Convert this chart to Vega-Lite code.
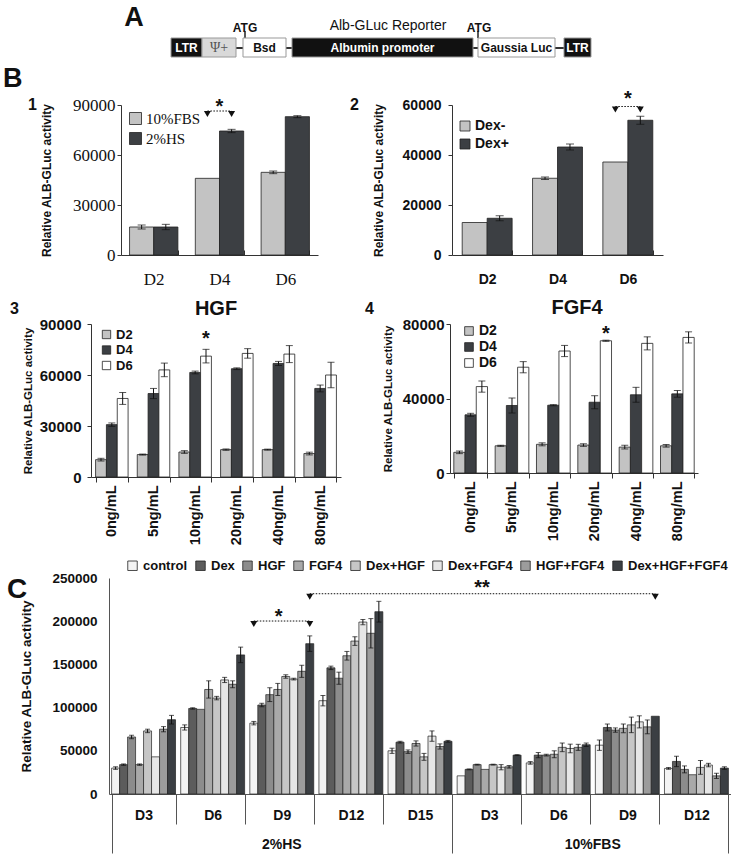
{
"$schema": "https://vega.github.io/schema/vega-lite/v6.json",
"padding": 0,
"background": "white",
"config": {
  "view": {"stroke": null},
  "font": "Liberation Sans",
  "axis": {"grid": false, "domainColor": "#333", "tickColor": "#333", "labelColor": "#111", "titleColor": "#111", "labelFont": "Liberation Sans", "titleFont": "Liberation Sans"},
  "legend": {"labelColor": "#111", "padding": 0, "labelFont": "Liberation Sans"},
  "title": {"font": "Liberation Sans", "fontWeight": "bold", "color": "#111"}
},
"bounds": "full",
"spacing": 0,
"resolve": {"scale": {"color": "independent", "xOffset": "independent", "fill": "independent", "x": "independent", "y": "independent"}, "legend": {"color": "independent", "fill": "independent"}},
"vconcat": [
 {"hconcat": [
  {"width": 100, "height": 58, "data": {"values": [{}]}, "mark": {"type": "point", "opacity": 0}, "encoding": {}},
  {"width": 520, "height": 58,
   "layer": [
    {"data": {"values": [{"s": 99, "e": 461}]}, "mark": {"type": "rule", "color": "#333", "strokeWidth": 2},
     "encoding": {"x": {"field": "s", "type": "quantitative", "scale": {"domain": [0, 520], "nice": false, "zero": false}, "axis": null}, "x2": {"field": "e"}, "y": {"datum": 48, "type": "quantitative", "scale": {"domain": [0, 58], "reverse": true, "nice": false, "zero": false}, "axis": null}}},
    {"data": {"values": [{"p": 142}, {"p": 375}]}, "mark": {"type": "rule", "color": "#222", "strokeWidth": 1.5},
     "encoding": {"x": {"field": "p", "type": "quantitative"}, "y": {"datum": 31, "type": "quantitative"}, "y2": {"datum": 38}}},
    {"data": {"values": [
      {"name": "LTR", "kind": "ltr", "s": 68, "e": 99},
      {"name": "Ψ+", "kind": "psi", "s": 99, "e": 133},
      {"name": "Bsd", "kind": "gene", "s": 140, "e": 183},
      {"name": "Albumin promoter", "kind": "ltr", "s": 189, "e": 370},
      {"name": "Gaussia Luc", "kind": "gene", "s": 375, "e": 452},
      {"name": "LTR", "kind": "ltr", "s": 461, "e": 488}]},
     "mark": {"type": "rect", "stroke": "#999", "strokeWidth": 1},
     "encoding": {"x": {"field": "s", "type": "quantitative"}, "x2": {"field": "e"}, "y": {"datum": 38, "type": "quantitative"}, "y2": {"datum": 57},
       "fill": {"field": "kind", "type": "nominal", "scale": {"domain": ["ltr", "psi", "gene"], "range": ["#111111", "#d9d9d9", "#ffffff"]}, "legend": null}}},
    {"data": {"values": [
      {"name": "LTR", "kind": "ltr", "s": 68, "e": 99},
      {"name": "Bsd", "kind": "gene", "s": 140, "e": 183},
      {"name": "Albumin promoter", "kind": "ltr", "s": 189, "e": 370},
      {"name": "Gaussia Luc", "kind": "gene", "s": 375, "e": 452},
      {"name": "LTR", "kind": "ltr", "s": 461, "e": 488}]},
     "transform": [{"calculate": "(datum.s + datum.e) / 2", "as": "mid"}],
     "mark": {"type": "text", "fontWeight": "bold", "fontSize": 12, "baseline": "middle"},
     "encoding": {"x": {"field": "mid", "type": "quantitative"}, "y": {"datum": 48, "type": "quantitative"}, "text": {"field": "name"},
       "color": {"field": "kind", "type": "nominal", "scale": {"domain": ["ltr", "gene"], "range": ["#ffffff", "#111111"]}, "legend": null}}},
    {"data": {"values": [{"name": "Ψ+", "s": 99, "e": 133}]},
     "transform": [{"calculate": "(datum.s + datum.e) / 2", "as": "mid"}],
     "mark": {"type": "text", "font": "Liberation Serif", "fontSize": 14, "baseline": "middle", "color": "#555"},
     "encoding": {"x": {"field": "mid", "type": "quantitative"}, "y": {"datum": 48, "type": "quantitative"}, "text": {"field": "name"}}},
    {"data": {"values": [{"t": "A", "p": 31}]},
     "mark": {"type": "text", "fontWeight": "bold", "fontSize": 27, "baseline": "middle", "color": "#111"},
     "encoding": {"x": {"field": "p", "type": "quantitative"}, "y": {"datum": 18, "type": "quantitative"}, "text": {"field": "t"}}},
    {"data": {"values": [{"t": "ATG", "p": 142}, {"t": "ATG", "p": 376}]},
     "mark": {"type": "text", "fontWeight": "bold", "fontSize": 12, "baseline": "middle", "color": "#111"},
     "encoding": {"x": {"field": "p", "type": "quantitative"}, "y": {"datum": 28, "type": "quantitative"}, "text": {"field": "t"}}},
    {"data": {"values": [{"t": "Alb-GLuc Reporter", "p": 285}]},
     "mark": {"type": "text", "fontSize": 14, "baseline": "middle", "color": "#111"},
     "encoding": {"x": {"field": "p", "type": "quantitative"}, "y": {"datum": 26, "type": "quantitative"}, "text": {"field": "t"}}}
   ]}
 ], "spacing": 0, "bounds": "flush", "resolve": {"scale": {"color": "independent", "xOffset": "independent", "fill": "independent"}, "legend": {"color": "independent", "fill": "independent"}}},

 {"width": 1, "height": 6.5, "data": {"values": [{}]}, "mark": {"type": "point", "opacity": 0}, "encoding": {}},

 {"hconcat": [
  {"width": 25, "height": 150, "data": {"values": [{}]}, "mark": {"type": "point", "opacity": 0}, "encoding": {},
   "title": {"text": "B", "fontSize": 27, "anchor": "start", "frame": "group", "baseline": "middle", "offset": 0, "dy": 1, "dx": 0}},
  {"width": 93, "height": 150, "data": {"values": [{}]}, "mark": {"type": "point", "opacity": 0}, "encoding": {},
   "title": {"text": "1", "fontSize": 16, "anchor": "start", "frame": "group", "baseline": "middle", "offset": 0, "dy": 16, "dx": 0}},
  {"width": 197, "height": 150,
   "data": {"values": [
     {"day": "D2", "series": "10%FBS", "value": 16800, "lo": 15600, "hi": 18000},
     {"day": "D2", "series": "2%HS", "value": 16800, "lo": 15200, "hi": 18400},
     {"day": "D4", "series": "10%FBS", "value": 46000},
     {"day": "D4", "series": "2%HS", "value": 74400, "lo": 73400, "hi": 75400},
     {"day": "D6", "series": "10%FBS", "value": 49600, "lo": 48800, "hi": 50400},
     {"day": "D6", "series": "2%HS", "value": 83000, "lo": 82400, "hi": 83600}]},
   "layer": [
    {"mark": {"type": "bar", "stroke": "#222", "strokeWidth": 0.8},
     "encoding": {
       "x": {"field": "day", "type": "nominal", "scale": {"domain": ["D2", "D4", "D6"], "paddingInner": 0.265, "paddingOuter": 0.13},
             "axis": {"title": null, "labelAngle": 0, "labelFont": "Liberation Serif", "labelFontSize": 17, "tickBand": "extent", "tickSize": -5, "labelPadding": 21.5}},
       "xOffset": {"field": "series", "type": "nominal", "scale": {"domain": ["10%FBS", "2%HS"]}},
       "y": {"field": "value", "type": "quantitative", "scale": {"domain": [0, 90000], "nice": false},
             "axis": {"values": [0, 30000, 60000, 90000], "format": "d", "labelFont": "Liberation Serif", "labelFontSize": 17, "tickSize": 4, "labelPadding": 2,
                      "title": "Relative ALB-GLuc activity", "titleFontSize": 12, "titleFontWeight": "bold", "titlePadding": 19}},
       "color": {"field": "series", "type": "nominal", "scale": {"domain": ["10%FBS", "2%HS"], "range": ["#c3c3c3", "#3c3f43"]},
                 "legend": {"title": null, "orient": "none", "legendX": 7, "legendY": 6, "labelFont": "Liberation Serif", "labelFontSize": 15, "symbolType": "square", "symbolSize": 144, "symbolStrokeColor": "#222", "symbolStrokeWidth": 0.8, "rowPadding": 3, "labelOffset": 3}}}},
    {"mark": {"type": "rule", "color": "#111"},
     "encoding": {"x": {"field": "day", "type": "nominal"}, "xOffset": {"field": "series", "type": "nominal"}, "y": {"field": "hi", "type": "quantitative"}, "y2": {"field": "lo"}}},
    {"mark": {"type": "tick", "orient": "horizontal", "size": 8, "thickness": 1, "color": "#111"},
     "encoding": {"x": {"field": "day", "type": "nominal"}, "xOffset": {"field": "series", "type": "nominal"}, "y": {"field": "hi", "type": "quantitative"}}},
    {"mark": {"type": "tick", "orient": "horizontal", "size": 8, "thickness": 1, "color": "#111"},
     "encoding": {"x": {"field": "day", "type": "nominal"}, "xOffset": {"field": "series", "type": "nominal"}, "y": {"field": "lo", "type": "quantitative"}}},
    {"data": {"values": [{"day": "D4", "series": "10%FBS", "v": 86400}, {"day": "D4", "series": "2%HS", "v": 86400}]},
     "mark": {"type": "line", "color": "#111", "strokeDash": [1.5, 1.5], "strokeWidth": 1},
     "encoding": {"x": {"field": "day", "type": "nominal"}, "xOffset": {"field": "series", "type": "nominal"}, "y": {"field": "v", "type": "quantitative"}}},
    {"data": {"values": [{"day": "D4", "series": "10%FBS", "v": 86400}, {"day": "D4", "series": "2%HS", "v": 86400}]},
     "mark": {"type": "point", "shape": "M-0.7,0L0.7,0L0,1.2Z", "filled": true, "color": "#111", "size": 100, "opacity": 1},
     "encoding": {"x": {"field": "day", "type": "nominal"}, "xOffset": {"field": "series", "type": "nominal"}, "y": {"field": "v", "type": "quantitative"}}},
    {"data": {"values": [{"day": "D4", "v": 85400, "t": "*"}]},
     "mark": {"type": "text", "fontSize": 20, "fontWeight": "bold", "baseline": "alphabetic", "color": "#111"},
     "encoding": {"x": {"field": "day", "type": "nominal"}, "y": {"field": "v", "type": "quantitative"}, "text": {"field": "t"}}}
   ]},
  {"width": 134, "height": 150, "data": {"values": [{}]}, "mark": {"type": "point", "opacity": 0}, "encoding": {},
   "title": {"text": "2", "fontSize": 16, "anchor": "start", "frame": "group", "baseline": "middle", "offset": 0, "dy": 16, "dx": 32}},
  {"width": 211, "height": 150,
   "data": {"values": [
     {"day": "D2", "series": "Dex-", "value": 13000},
     {"day": "D2", "series": "Dex+", "value": 14700, "lo": 13700, "hi": 15700},
     {"day": "D4", "series": "Dex-", "value": 30700, "lo": 30200, "hi": 31200},
     {"day": "D4", "series": "Dex+", "value": 43200, "lo": 42000, "hi": 44400},
     {"day": "D6", "series": "Dex-", "value": 37200},
     {"day": "D6", "series": "Dex+", "value": 53900, "lo": 52300, "hi": 55500}]},
   "layer": [
    {"mark": {"type": "bar", "stroke": "#222", "strokeWidth": 0.8},
     "encoding": {
       "x": {"field": "day", "type": "nominal", "scale": {"domain": ["D2", "D4", "D6"], "paddingInner": 0.29, "paddingOuter": 0.145},
             "axis": {"title": null, "labelAngle": 0, "labelFontSize": 14, "labelFontWeight": "bold", "tickBand": "extent", "tickSize": -5, "labelPadding": 22.5}},
       "xOffset": {"field": "series", "type": "nominal", "scale": {"domain": ["Dex-", "Dex+"]}},
       "y": {"field": "value", "type": "quantitative", "scale": {"domain": [0, 60000], "nice": false},
             "axis": {"values": [0, 20000, 40000, 60000], "format": "d", "labelFontSize": 14, "labelFontWeight": "bold", "tickSize": 4, "labelPadding": 7,
                      "title": "Relative ALB-GLuc activity", "titleFontSize": 12, "titleFontWeight": "bold", "titlePadding": 17}},
       "color": {"field": "series", "type": "nominal", "scale": {"domain": ["Dex-", "Dex+"], "range": ["#c3c3c3", "#3c3f43"]},
                 "legend": {"title": null, "orient": "none", "legendX": 6, "legendY": 14, "labelFontSize": 14, "labelFontWeight": "bold", "symbolType": "square", "symbolSize": 100, "symbolStrokeColor": "#222", "symbolStrokeWidth": 0.8, "rowPadding": 4, "labelOffset": 3}}}},
    {"mark": {"type": "rule", "color": "#111"},
     "encoding": {"x": {"field": "day", "type": "nominal"}, "xOffset": {"field": "series", "type": "nominal"}, "y": {"field": "hi", "type": "quantitative"}, "y2": {"field": "lo"}}},
    {"mark": {"type": "tick", "orient": "horizontal", "size": 8, "thickness": 1, "color": "#111"},
     "encoding": {"x": {"field": "day", "type": "nominal"}, "xOffset": {"field": "series", "type": "nominal"}, "y": {"field": "hi", "type": "quantitative"}}},
    {"mark": {"type": "tick", "orient": "horizontal", "size": 8, "thickness": 1, "color": "#111"},
     "encoding": {"x": {"field": "day", "type": "nominal"}, "xOffset": {"field": "series", "type": "nominal"}, "y": {"field": "lo", "type": "quantitative"}}},
    {"data": {"values": [{"day": "D6", "series": "Dex-", "v": 59400}, {"day": "D6", "series": "Dex+", "v": 59400}]},
     "mark": {"type": "line", "color": "#111", "strokeDash": [1.5, 1.5], "strokeWidth": 1},
     "encoding": {"x": {"field": "day", "type": "nominal"}, "xOffset": {"field": "series", "type": "nominal"}, "y": {"field": "v", "type": "quantitative"}}},
    {"data": {"values": [{"day": "D6", "series": "Dex-", "v": 59400}, {"day": "D6", "series": "Dex+", "v": 59400}]},
     "mark": {"type": "point", "shape": "M-0.7,0L0.7,0L0,1.2Z", "filled": true, "color": "#111", "size": 100, "opacity": 1},
     "encoding": {"x": {"field": "day", "type": "nominal"}, "xOffset": {"field": "series", "type": "nominal"}, "y": {"field": "v", "type": "quantitative"}}},
    {"data": {"values": [{"day": "D6", "v": 60000, "t": "*"}]},
     "mark": {"type": "text", "fontSize": 20, "fontWeight": "bold", "baseline": "alphabetic", "color": "#111"},
     "encoding": {"x": {"field": "day", "type": "nominal"}, "y": {"field": "v", "type": "quantitative"}, "text": {"field": "t"}}}
   ]}
 ], "spacing": 0, "bounds": "flush", "resolve": {"scale": {"color": "independent", "xOffset": "independent"}, "legend": {"color": "independent"}}},

 {"width": 1, "height": 9.5, "data": {"values": [{}]}, "mark": {"type": "point", "opacity": 0}, "encoding": {}},

 {"hconcat": [
  {"width": 88, "height": 153, "data": {"values": [{}]}, "mark": {"type": "point", "opacity": 0}, "encoding": {},
   "title": {"text": "3", "fontSize": 16, "anchor": "start", "frame": "group", "baseline": "middle", "offset": 0, "dy": 1, "dx": 7}},
  {"width": 250, "height": 153,
   "title": {"text": "HGF", "fontSize": 20, "anchor": "middle", "frame": "group", "baseline": "middle", "offset": 0, "dy": 12},
   "data": {"values": [
     {"dose": "0ng/mL", "day": "D2", "value": 10200, "lo": 9400, "hi": 11000},
     {"dose": "0ng/mL", "day": "D4", "value": 30800, "lo": 29800, "hi": 31800},
     {"dose": "0ng/mL", "day": "D6", "value": 46200, "lo": 42700, "hi": 49700},
     {"dose": "5ng/mL", "day": "D2", "value": 13200, "lo": 12900, "hi": 13500},
     {"dose": "5ng/mL", "day": "D4", "value": 49100, "lo": 46100, "hi": 52100},
     {"dose": "5ng/mL", "day": "D6", "value": 63000, "lo": 59000, "hi": 67000},
     {"dose": "10ng/mL", "day": "D2", "value": 14700, "lo": 13900, "hi": 15500},
     {"dose": "10ng/mL", "day": "D4", "value": 61500, "lo": 60700, "hi": 62300},
     {"dose": "10ng/mL", "day": "D6", "value": 71100, "lo": 67100, "hi": 75100},
     {"dose": "20ng/mL", "day": "D2", "value": 16100, "lo": 15700, "hi": 16500},
     {"dose": "20ng/mL", "day": "D4", "value": 63700, "lo": 63200, "hi": 64200},
     {"dose": "20ng/mL", "day": "D6", "value": 72700, "lo": 69900, "hi": 75500},
     {"dose": "40ng/mL", "day": "D2", "value": 16100, "lo": 15800, "hi": 16400},
     {"dose": "40ng/mL", "day": "D4", "value": 66800, "lo": 65600, "hi": 68000},
     {"dose": "40ng/mL", "day": "D6", "value": 72300, "lo": 67300, "hi": 77300},
     {"dose": "80ng/mL", "day": "D2", "value": 13800, "lo": 13000, "hi": 14600},
     {"dose": "80ng/mL", "day": "D4", "value": 52100, "lo": 50100, "hi": 54100},
     {"dose": "80ng/mL", "day": "D6", "value": 60000, "lo": 52500, "hi": 67500}]},
   "layer": [
    {"mark": {"type": "bar", "stroke": "#222", "strokeWidth": 0.8},
     "encoding": {
       "x": {"field": "dose", "type": "nominal", "scale": {"domain": ["0ng/mL", "5ng/mL", "10ng/mL", "20ng/mL", "40ng/mL", "80ng/mL"], "paddingInner": 0.22, "paddingOuter": 0.11},
             "axis": {"title": null, "labelAngle": -90, "labelFontSize": 14.5, "labelFontWeight": "bold", "tickBand": "extent", "tickSize": 5, "labelPadding": 3}},
       "xOffset": {"field": "day", "type": "nominal", "scale": {"domain": ["D2", "D4", "D6"]}},
       "y": {"field": "value", "type": "quantitative", "scale": {"domain": [0, 90000], "nice": false},
             "axis": {"values": [0, 30000, 60000, 90000], "format": "d", "labelFontSize": 15, "labelFontWeight": "bold", "tickSize": 4, "labelPadding": 6,
                      "title": "Relative ALB-GLuc activity", "titleFontSize": 11.5, "titleFontWeight": "bold", "titlePadding": 6}},
       "color": {"field": "day", "type": "nominal", "scale": {"domain": ["D2", "D4", "D6"], "range": ["#c3c3c3", "#3c3f43", "#ffffff"]},
                 "legend": {"title": null, "orient": "none", "legendX": 9, "legendY": 4, "labelFontSize": 13, "labelFontWeight": "bold", "symbolType": "square", "symbolSize": 70, "symbolStrokeColor": "#222", "symbolStrokeWidth": 0.8, "rowPadding": 1.5, "labelOffset": 3}}}},
    {"mark": {"type": "rule", "color": "#111"},
     "encoding": {"x": {"field": "dose", "type": "nominal"}, "xOffset": {"field": "day", "type": "nominal"}, "y": {"field": "hi", "type": "quantitative"}, "y2": {"field": "lo"}}},
    {"mark": {"type": "tick", "orient": "horizontal", "size": 7, "thickness": 1, "color": "#111"},
     "encoding": {"x": {"field": "dose", "type": "nominal"}, "xOffset": {"field": "day", "type": "nominal"}, "y": {"field": "hi", "type": "quantitative"}}},
    {"mark": {"type": "tick", "orient": "horizontal", "size": 7, "thickness": 1, "color": "#111"},
     "encoding": {"x": {"field": "dose", "type": "nominal"}, "xOffset": {"field": "day", "type": "nominal"}, "y": {"field": "lo", "type": "quantitative"}}},
    {"data": {"values": [{"dose": "10ng/mL", "day": "D6", "v": 77600, "t": "*"}]},
     "mark": {"type": "text", "fontSize": 20, "fontWeight": "bold", "baseline": "alphabetic", "color": "#111"},
     "encoding": {"x": {"field": "dose", "type": "nominal"}, "xOffset": {"field": "day", "type": "nominal"}, "y": {"field": "v", "type": "quantitative"}, "text": {"field": "t"}}}
   ]},
  {"width": 109, "height": 153, "data": {"values": [{}]}, "mark": {"type": "point", "opacity": 0}, "encoding": {},
   "title": {"text": "4", "fontSize": 16, "anchor": "start", "frame": "group", "baseline": "middle", "offset": 0, "dy": 1, "dx": 24}},
  {"width": 248, "height": 149,
   "title": {"text": "FGF4", "fontSize": 20, "anchor": "middle", "frame": "group", "baseline": "middle", "offset": 0, "dy": 11, "dx": 3},
   "data": {"values": [
     {"dose": "0ng/mL", "day": "D2", "value": 11100, "lo": 10400, "hi": 11800},
     {"dose": "0ng/mL", "day": "D4", "value": 31250, "lo": 30450, "hi": 32050},
     {"dose": "0ng/mL", "day": "D6", "value": 46400, "lo": 43400, "hi": 49400},
     {"dose": "5ng/mL", "day": "D2", "value": 14600, "lo": 14300, "hi": 14900},
     {"dose": "5ng/mL", "day": "D4", "value": 36250, "lo": 32250, "hi": 40250},
     {"dose": "5ng/mL", "day": "D6", "value": 56800, "lo": 53800, "hi": 59800},
     {"dose": "10ng/mL", "day": "D2", "value": 15400, "lo": 14600, "hi": 16200},
     {"dose": "10ng/mL", "day": "D4", "value": 36400, "lo": 36100, "hi": 36700},
     {"dose": "10ng/mL", "day": "D6", "value": 65500, "lo": 62500, "hi": 68500},
     {"dose": "20ng/mL", "day": "D2", "value": 15000, "lo": 14300, "hi": 15700},
     {"dose": "20ng/mL", "day": "D4", "value": 38000, "lo": 34500, "hi": 41500},
     {"dose": "20ng/mL", "day": "D6", "value": 71000, "lo": 70700, "hi": 71300},
     {"dose": "40ng/mL", "day": "D2", "value": 13900, "lo": 12900, "hi": 14900},
     {"dose": "40ng/mL", "day": "D4", "value": 42000, "lo": 38000, "hi": 46000},
     {"dose": "40ng/mL", "day": "D6", "value": 69600, "lo": 66100, "hi": 73100},
     {"dose": "80ng/mL", "day": "D2", "value": 14600, "lo": 13900, "hi": 15300},
     {"dose": "80ng/mL", "day": "D4", "value": 42500, "lo": 40700, "hi": 44300},
     {"dose": "80ng/mL", "day": "D6", "value": 72800, "lo": 69800, "hi": 75800}]},
   "layer": [
    {"mark": {"type": "bar", "stroke": "#222", "strokeWidth": 0.8},
     "encoding": {
       "x": {"field": "dose", "type": "nominal", "scale": {"domain": ["0ng/mL", "5ng/mL", "10ng/mL", "20ng/mL", "40ng/mL", "80ng/mL"], "paddingInner": 0.185, "paddingOuter": 0.092},
             "axis": {"title": null, "labelAngle": -90, "labelFontSize": 14.5, "labelFontWeight": "bold", "tickBand": "extent", "tickSize": 5, "labelPadding": 3}},
       "xOffset": {"field": "day", "type": "nominal", "scale": {"domain": ["D2", "D4", "D6"]}},
       "y": {"field": "value", "type": "quantitative", "scale": {"domain": [0, 80000], "nice": false},
             "axis": {"values": [0, 20000, 40000, 60000, 80000], "format": "d", "labelFontSize": 15, "labelFontWeight": "bold", "tickSize": 4, "labelPadding": 2,
                      "title": "Relative ALB-GLuc activity", "titleFontSize": 11.5, "titleFontWeight": "bold", "titlePadding": 9}},
       "color": {"field": "day", "type": "nominal", "scale": {"domain": ["D2", "D4", "D6"], "range": ["#c3c3c3", "#3c3f43", "#ffffff"]},
                 "legend": {"title": null, "orient": "none", "legendX": 12, "legendY": 0, "labelFontSize": 14, "labelFontWeight": "bold", "symbolType": "square", "symbolSize": 75, "symbolStrokeColor": "#222", "symbolStrokeWidth": 0.8, "rowPadding": 2, "labelOffset": 3}}}},
    {"mark": {"type": "rule", "color": "#111"},
     "encoding": {"x": {"field": "dose", "type": "nominal"}, "xOffset": {"field": "day", "type": "nominal"}, "y": {"field": "hi", "type": "quantitative"}, "y2": {"field": "lo"}}},
    {"mark": {"type": "tick", "orient": "horizontal", "size": 7, "thickness": 1, "color": "#111"},
     "encoding": {"x": {"field": "dose", "type": "nominal"}, "xOffset": {"field": "day", "type": "nominal"}, "y": {"field": "hi", "type": "quantitative"}}},
    {"mark": {"type": "tick", "orient": "horizontal", "size": 7, "thickness": 1, "color": "#111"},
     "encoding": {"x": {"field": "dose", "type": "nominal"}, "xOffset": {"field": "day", "type": "nominal"}, "y": {"field": "lo", "type": "quantitative"}}},
    {"data": {"values": [{"dose": "20ng/mL", "day": "D6", "v": 71400, "t": "*"}]},
     "mark": {"type": "text", "fontSize": 20, "fontWeight": "bold", "baseline": "alphabetic", "color": "#111"},
     "encoding": {"x": {"field": "dose", "type": "nominal"}, "xOffset": {"field": "day", "type": "nominal"}, "y": {"field": "v", "type": "quantitative"}, "text": {"field": "t"}}}
   ]}
 ], "spacing": 0, "bounds": "flush", "resolve": {"scale": {"color": "independent", "xOffset": "independent"}, "legend": {"color": "independent"}}},

 {"width": 1, "height": 14, "data": {"values": [{}]}, "mark": {"type": "point", "opacity": 0}, "encoding": {}},

 {"hconcat": [
  {"width": 106, "height": 216, "data": {"values": [{}]}, "mark": {"type": "point", "opacity": 0}, "encoding": {},
   "title": {"text": "C", "fontSize": 28, "anchor": "start", "frame": "group", "baseline": "middle", "offset": 0, "dy": 40, "dx": 4}},
  {"width": 622, "height": 216,
   "data": {"values": [
     {"grp": "2%HS D3", "series": "control", "value": 30000, "lo": 28500, "hi": 31500},
     {"grp": "2%HS D3", "series": "Dex", "value": 34000, "lo": 33200, "hi": 34800},
     {"grp": "2%HS D3", "series": "HGF", "value": 66000, "lo": 64000, "hi": 68000},
     {"grp": "2%HS D3", "series": "FGF4", "value": 34000, "lo": 33200, "hi": 34800},
     {"grp": "2%HS D3", "series": "Dex+HGF", "value": 73000, "lo": 71000, "hi": 75000},
     {"grp": "2%HS D3", "series": "Dex+FGF4", "value": 43000},
     {"grp": "2%HS D3", "series": "HGF+FGF4", "value": 75000, "lo": 72000, "hi": 78000},
     {"grp": "2%HS D3", "series": "Dex+HGF+FGF4", "value": 86000, "lo": 81000, "hi": 91000},
     {"grp": "2%HS D6", "series": "control", "value": 77000, "lo": 74000, "hi": 80000},
     {"grp": "2%HS D6", "series": "Dex", "value": 99000, "lo": 98200, "hi": 99800},
     {"grp": "2%HS D6", "series": "HGF", "value": 98000},
     {"grp": "2%HS D6", "series": "FGF4", "value": 121000, "lo": 111000, "hi": 131000},
     {"grp": "2%HS D6", "series": "Dex+HGF", "value": 111000, "lo": 109000, "hi": 113000},
     {"grp": "2%HS D6", "series": "Dex+FGF4", "value": 132000, "lo": 129000, "hi": 135000},
     {"grp": "2%HS D6", "series": "HGF+FGF4", "value": 127000, "lo": 123000, "hi": 131000},
     {"grp": "2%HS D6", "series": "Dex+HGF+FGF4", "value": 161000, "lo": 152000, "hi": 170000},
     {"grp": "2%HS D9", "series": "control", "value": 82000, "lo": 80000, "hi": 84000},
     {"grp": "2%HS D9", "series": "Dex", "value": 103000, "lo": 101000, "hi": 105000},
     {"grp": "2%HS D9", "series": "HGF", "value": 115000, "lo": 107000, "hi": 123000},
     {"grp": "2%HS D9", "series": "FGF4", "value": 121000, "lo": 114000, "hi": 128000},
     {"grp": "2%HS D9", "series": "Dex+HGF", "value": 136000, "lo": 134000, "hi": 138000},
     {"grp": "2%HS D9", "series": "Dex+FGF4", "value": 133000, "lo": 132000, "hi": 134000},
     {"grp": "2%HS D9", "series": "HGF+FGF4", "value": 142000, "lo": 135000, "hi": 149000},
     {"grp": "2%HS D9", "series": "Dex+HGF+FGF4", "value": 174000, "lo": 165000, "hi": 183000},
     {"grp": "2%HS D12", "series": "control", "value": 108000, "lo": 102000, "hi": 114000},
     {"grp": "2%HS D12", "series": "Dex", "value": 146000, "lo": 144000, "hi": 148000},
     {"grp": "2%HS D12", "series": "HGF", "value": 134000, "lo": 127000, "hi": 141000},
     {"grp": "2%HS D12", "series": "FGF4", "value": 160000, "lo": 155000, "hi": 165000},
     {"grp": "2%HS D12", "series": "Dex+HGF", "value": 177000, "lo": 172000, "hi": 182000},
     {"grp": "2%HS D12", "series": "Dex+FGF4", "value": 199000, "lo": 196000, "hi": 202000},
     {"grp": "2%HS D12", "series": "HGF+FGF4", "value": 186000, "lo": 169000, "hi": 203000},
     {"grp": "2%HS D12", "series": "Dex+HGF+FGF4", "value": 211000, "lo": 199000, "hi": 223000},
     {"grp": "2%HS D15", "series": "control", "value": 50000, "lo": 47000, "hi": 53000},
     {"grp": "2%HS D15", "series": "Dex", "value": 60000, "lo": 59000, "hi": 61000},
     {"grp": "2%HS D15", "series": "HGF", "value": 49000, "lo": 47000, "hi": 51000},
     {"grp": "2%HS D15", "series": "FGF4", "value": 58500, "lo": 55500, "hi": 61500},
     {"grp": "2%HS D15", "series": "Dex+HGF", "value": 43000, "lo": 39000, "hi": 47000},
     {"grp": "2%HS D15", "series": "Dex+FGF4", "value": 67000, "lo": 61000, "hi": 73000},
     {"grp": "2%HS D15", "series": "HGF+FGF4", "value": 55000, "lo": 52000, "hi": 58000},
     {"grp": "2%HS D15", "series": "Dex+HGF+FGF4", "value": 61000, "lo": 60000, "hi": 62000},
     {"grp": "10%FBS D3", "series": "control", "value": 21000},
     {"grp": "10%FBS D3", "series": "Dex", "value": 28500, "lo": 28000, "hi": 29000},
     {"grp": "10%FBS D3", "series": "HGF", "value": 34000, "lo": 33500, "hi": 34500},
     {"grp": "10%FBS D3", "series": "FGF4", "value": 28500},
     {"grp": "10%FBS D3", "series": "Dex+HGF", "value": 34000, "lo": 33500, "hi": 34500},
     {"grp": "10%FBS D3", "series": "Dex+FGF4", "value": 31000, "lo": 28000, "hi": 34000},
     {"grp": "10%FBS D3", "series": "HGF+FGF4", "value": 31500, "lo": 30000, "hi": 33000},
     {"grp": "10%FBS D3", "series": "Dex+HGF+FGF4", "value": 45000, "lo": 44500, "hi": 45500},
     {"grp": "10%FBS D6", "series": "control", "value": 36000, "lo": 34500, "hi": 37500},
     {"grp": "10%FBS D6", "series": "Dex", "value": 45000, "lo": 42000, "hi": 48000},
     {"grp": "10%FBS D6", "series": "HGF", "value": 45000, "lo": 44000, "hi": 46000},
     {"grp": "10%FBS D6", "series": "FGF4", "value": 46000, "lo": 42000, "hi": 50000},
     {"grp": "10%FBS D6", "series": "Dex+HGF", "value": 54000, "lo": 49000, "hi": 59000},
     {"grp": "10%FBS D6", "series": "Dex+FGF4", "value": 52700, "lo": 47700, "hi": 57700},
     {"grp": "10%FBS D6", "series": "HGF+FGF4", "value": 54000, "lo": 50500, "hi": 57500},
     {"grp": "10%FBS D6", "series": "Dex+HGF+FGF4", "value": 57000, "lo": 55000, "hi": 59000},
     {"grp": "10%FBS D9", "series": "control", "value": 56500, "lo": 50500, "hi": 62500},
     {"grp": "10%FBS D9", "series": "Dex", "value": 77000, "lo": 73000, "hi": 81000},
     {"grp": "10%FBS D9", "series": "HGF", "value": 74000, "lo": 71500, "hi": 76500},
     {"grp": "10%FBS D9", "series": "FGF4", "value": 76000, "lo": 71000, "hi": 81000},
     {"grp": "10%FBS D9", "series": "Dex+HGF", "value": 80000, "lo": 71000, "hi": 89000},
     {"grp": "10%FBS D9", "series": "Dex+FGF4", "value": 83500, "lo": 76500, "hi": 90500},
     {"grp": "10%FBS D9", "series": "HGF+FGF4", "value": 77700, "lo": 69700, "hi": 85700},
     {"grp": "10%FBS D9", "series": "Dex+HGF+FGF4", "value": 90000},
     {"grp": "10%FBS D12", "series": "control", "value": 29600, "lo": 28600, "hi": 30600},
     {"grp": "10%FBS D12", "series": "Dex", "value": 37700, "lo": 31700, "hi": 43700},
     {"grp": "10%FBS D12", "series": "HGF", "value": 28500, "lo": 24500, "hi": 32500},
     {"grp": "10%FBS D12", "series": "FGF4", "value": 22300},
     {"grp": "10%FBS D12", "series": "Dex+HGF", "value": 30800, "lo": 22800, "hi": 38800},
     {"grp": "10%FBS D12", "series": "Dex+FGF4", "value": 33500, "lo": 31500, "hi": 35500},
     {"grp": "10%FBS D12", "series": "HGF+FGF4", "value": 21000, "lo": 18000, "hi": 24000},
     {"grp": "10%FBS D12", "series": "Dex+HGF+FGF4", "value": 30000, "lo": 28500, "hi": 31500}]},
   "layer": [
    {"mark": {"type": "bar", "stroke": "#222", "strokeWidth": 0.7},
     "encoding": {
       "x": {"field": "grp", "type": "nominal",
             "scale": {"domain": ["2%HS D3", "2%HS D6", "2%HS D9", "2%HS D12", "2%HS D15", "10%FBS D3", "10%FBS D6", "10%FBS D9", "10%FBS D12"], "paddingInner": 0.075, "paddingOuter": 0.0375},
             "axis": {"title": null, "labelExpr": "split(datum.label, ' ')[1]", "labelAngle": 0, "labelFontSize": 14, "labelFontWeight": "bold", "tickBand": "extent",
                      "tickColor": "#555", "domainColor": "#555",
                      "tickSize": {"condition": {"test": "datum.index === -1 || datum.index === 1 || datum.value === '2%HS D15'", "value": 59}, "value": 30},
                      "labelPadding": {"condition": {"test": "datum.index === 1 || datum.value === '2%HS D15'", "value": -45}, "value": -16}}},
       "xOffset": {"field": "series", "type": "nominal", "scale": {"domain": ["control", "Dex", "HGF", "FGF4", "Dex+HGF", "Dex+FGF4", "HGF+FGF4", "Dex+HGF+FGF4"]}},
       "y": {"field": "value", "type": "quantitative", "scale": {"domain": [0, 250000], "nice": false},
             "axis": {"values": [0, 50000, 100000, 150000, 200000, 250000], "format": "d", "labelFontSize": 13.5, "labelFontWeight": "bold", "ticks": false, "labelPadding": 12, "domainColor": "#555",
                      "title": "Relative ALB-GLuc activity", "titleFontSize": 13.5, "titleFontWeight": "bold", "titlePadding": 18}},
       "color": {"field": "series", "type": "nominal",
                 "scale": {"domain": ["control", "Dex", "HGF", "FGF4", "Dex+HGF", "Dex+FGF4", "HGF+FGF4", "Dex+HGF+FGF4"], "range": ["#f3f3f3", "#5c5c5c", "#8c8c8c", "#a9a9a9", "#c6c6c6", "#e6e6e6", "#9c9c9c", "#3b3f43"]},
                 "legend": {"title": null, "orient": "none", "direction": "horizontal", "columns": 8, "legendX": 17, "legendY": -19, "labelFontSize": 13, "labelFontWeight": "bold", "symbolType": "square", "symbolSize": 90, "symbolStrokeColor": "#222", "symbolStrokeWidth": 0.8, "columnPadding": 6, "labelOffset": 4}}}},
    {"mark": {"type": "rule", "color": "#111"},
     "encoding": {"x": {"field": "grp", "type": "nominal"}, "xOffset": {"field": "series", "type": "nominal"}, "y": {"field": "hi", "type": "quantitative"}, "y2": {"field": "lo"}}},
    {"mark": {"type": "tick", "orient": "horizontal", "size": 5, "thickness": 1, "color": "#111"},
     "encoding": {"x": {"field": "grp", "type": "nominal"}, "xOffset": {"field": "series", "type": "nominal"}, "y": {"field": "hi", "type": "quantitative"}}},
    {"mark": {"type": "tick", "orient": "horizontal", "size": 5, "thickness": 1, "color": "#111"},
     "encoding": {"x": {"field": "grp", "type": "nominal"}, "xOffset": {"field": "series", "type": "nominal"}, "y": {"field": "lo", "type": "quantitative"}}},
    {"data": {"values": [
       {"ann": "a", "grp": "2%HS D9", "series": "control", "v": 200200},
       {"ann": "a", "grp": "2%HS D9", "series": "Dex+HGF+FGF4", "v": 200200},
       {"ann": "b", "grp": "2%HS D9", "series": "Dex+HGF+FGF4", "v": 231800},
       {"ann": "b", "grp": "10%FBS D9", "series": "Dex+HGF+FGF4", "v": 231800}]},
     "mark": {"type": "line", "color": "#111", "strokeDash": [1.5, 1.5], "strokeWidth": 1},
     "encoding": {"x": {"field": "grp", "type": "nominal"}, "xOffset": {"field": "series", "type": "nominal"}, "y": {"field": "v", "type": "quantitative"}, "detail": {"field": "ann"}}},
    {"data": {"values": [
       {"ann": "a", "grp": "2%HS D9", "series": "control", "v": 200200},
       {"ann": "a", "grp": "2%HS D9", "series": "Dex+HGF+FGF4", "v": 200200},
       {"ann": "b", "grp": "2%HS D9", "series": "Dex+HGF+FGF4", "v": 231800},
       {"ann": "b", "grp": "10%FBS D9", "series": "Dex+HGF+FGF4", "v": 231800}]},
     "mark": {"type": "point", "shape": "M-0.7,0L0.7,0L0,1.2Z", "filled": true, "color": "#111", "size": 100, "opacity": 1},
     "encoding": {"x": {"field": "grp", "type": "nominal"}, "xOffset": {"field": "series", "type": "nominal"}, "y": {"field": "v", "type": "quantitative"}}},
    {"data": {"values": [{"grp": "2%HS D9", "v": 197600, "t": "*"}]},
     "mark": {"type": "text", "fontSize": 20, "fontWeight": "bold", "baseline": "alphabetic", "color": "#111"},
     "encoding": {"x": {"field": "grp", "type": "nominal", "bandPosition": 0.45}, "y": {"field": "v", "type": "quantitative"}, "text": {"field": "t"}}},
    {"data": {"values": [{"grp": "10%FBS D3", "v": 231100, "t": "**"}]},
     "mark": {"type": "text", "fontSize": 20, "fontWeight": "bold", "baseline": "alphabetic", "color": "#111"},
     "encoding": {"x": {"field": "grp", "type": "nominal", "bandPosition": 0.39}, "y": {"field": "v", "type": "quantitative"}, "text": {"field": "t"}}},
    {"data": {"values": [{"grp": "2%HS D9", "t": "2%HS"}]},
     "mark": {"type": "text", "fontSize": 14, "fontWeight": "bold", "baseline": "middle", "dy": 51, "color": "#111"},
     "encoding": {"x": {"field": "grp", "type": "nominal"}, "y": {"datum": 0, "type": "quantitative"}, "text": {"field": "t"}}},
    {"data": {"values": [{"grp": "10%FBS D9", "t": "10%FBS"}]},
     "mark": {"type": "text", "fontSize": 14, "fontWeight": "bold", "baseline": "middle", "dy": 51, "color": "#111"},
     "encoding": {"x": {"field": "grp", "type": "nominal", "bandPosition": -0.04}, "y": {"datum": 0, "type": "quantitative"}, "text": {"field": "t"}}}
   ]}
 ], "spacing": 0, "bounds": "flush", "resolve": {"scale": {"color": "independent", "xOffset": "independent"}, "legend": {"color": "independent"}}}
]
}
